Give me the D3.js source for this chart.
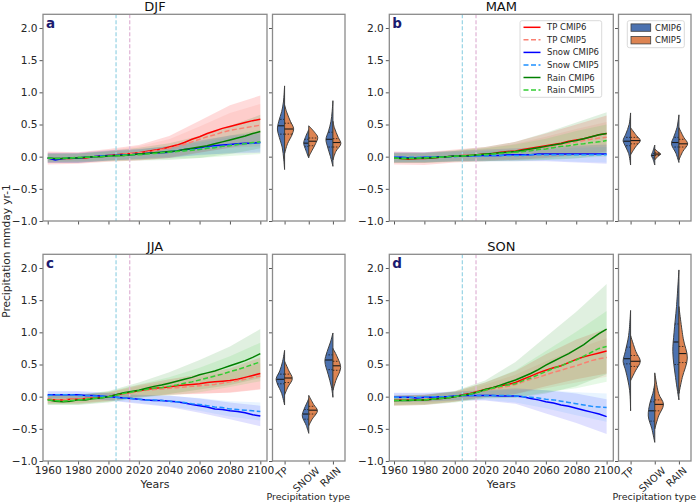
<!DOCTYPE html>
<html><head><meta charset="utf-8">
<script src="https://cdn.jsdelivr.net/npm/d3@7"></script>
<style>body{margin:0;background:#fff}</style>
</head><body><svg id="c" width="698" height="503"></svg>
<script>
// ---------------- DATA ----------------
const years = d3.range(1960, 2101, 5);
const bandYears = d3.range(1960, 2101, 20);
const seasons = ["DJF", "MAM", "JJA", "SON"];
const panelLetters = ["a", "b", "c", "d"];
const seriesNames = ["TP CMIP6", "TP CMIP5", "Snow CMIP6", "Snow CMIP5", "Rain CMIP6", "Rain CMIP5"];
const categories = ["TP", "SNOW", "RAIN"];
const models = ["CMIP6", "CMIP5"];
const xTicks = [1960, 1980, 2000, 2020, 2040, 2060, 2080, 2100];
const yTicks = [-1.0, -0.5, 0.0, 0.5, 1.0, 1.5, 2.0];
const refYears = [2005, 2014];

// ensemble-mean series (5-year steps 1960..2100)
const djfTP6 = [-0.02,-0.04,-0.03,-0.03,-0.02,-0.02,0.00,0.01,0.02,0.03,0.04,0.05,0.06,0.08,0.10,0.12,0.15,0.18,0.22,0.27,0.31,0.36,0.40,0.44,0.47,0.50,0.53,0.56,0.58];
const djfTP5 = [-0.02,-0.03,-0.03,-0.02,-0.02,-0.01,0.00,0.01,0.02,0.03,0.04,0.05,0.06,0.07,0.09,0.11,0.13,0.16,0.19,0.23,0.27,0.31,0.34,0.38,0.41,0.43,0.45,0.47,0.49];
const djfSN6 = [-0.02,-0.05,-0.03,-0.02,-0.02,-0.01,0.00,0.01,0.02,0.02,0.03,0.03,0.04,0.05,0.06,0.06,0.07,0.09,0.11,0.12,0.14,0.16,0.17,0.18,0.19,0.20,0.21,0.21,0.22];
const djfSN5 = [-0.02,-0.03,-0.03,-0.02,-0.02,-0.01,0.00,0.01,0.01,0.02,0.03,0.03,0.04,0.05,0.06,0.07,0.08,0.09,0.10,0.11,0.12,0.14,0.15,0.16,0.18,0.19,0.20,0.21,0.22];
const djfRN6 = [-0.02,-0.03,-0.03,-0.02,-0.02,-0.01,0.00,0.00,0.01,0.02,0.02,0.03,0.04,0.05,0.06,0.07,0.08,0.09,0.11,0.13,0.15,0.17,0.20,0.23,0.26,0.29,0.32,0.36,0.39];
const djfRN5 = [-0.02,-0.03,-0.02,-0.02,-0.01,-0.01,0.00,0.00,0.01,0.01,0.02,0.03,0.03,0.04,0.05,0.06,0.07,0.08,0.09,0.10,0.11,0.13,0.14,0.16,0.17,0.19,0.20,0.22,0.23];

const mamTP6 = [-0.02,-0.03,-0.04,-0.03,-0.03,-0.02,-0.01,0.00,0.01,0.02,0.02,0.03,0.04,0.05,0.07,0.08,0.09,0.11,0.13,0.15,0.17,0.19,0.21,0.24,0.26,0.28,0.31,0.34,0.36];
const mamTP5 = [-0.02,-0.03,-0.03,-0.03,-0.02,-0.02,-0.01,0.00,0.01,0.02,0.02,0.03,0.04,0.05,0.06,0.07,0.08,0.09,0.11,0.13,0.15,0.17,0.19,0.21,0.23,0.25,0.27,0.29,0.30];
const mamSN6 = [-0.01,-0.01,-0.02,-0.02,-0.01,-0.01,0.00,0.00,0.01,0.01,0.01,0.02,0.02,0.02,0.02,0.03,0.03,0.03,0.03,0.04,0.04,0.04,0.04,0.04,0.04,0.04,0.04,0.04,0.04];
const mamSN5 = [-0.01,-0.01,-0.01,-0.01,-0.01,0.00,0.00,0.00,0.00,0.01,0.01,0.01,0.01,0.02,0.02,0.02,0.02,0.02,0.03,0.03,0.03,0.03,0.03,0.03,0.03,0.03,0.03,0.03,0.03];
const mamRN6 = [-0.02,-0.03,-0.03,-0.03,-0.02,-0.02,-0.01,0.00,0.01,0.01,0.02,0.03,0.04,0.05,0.06,0.07,0.08,0.10,0.12,0.14,0.16,0.18,0.20,0.23,0.25,0.28,0.31,0.34,0.36];
const mamRN5 = [-0.02,-0.03,-0.03,-0.02,-0.02,-0.01,-0.01,0.00,0.01,0.01,0.02,0.03,0.03,0.04,0.05,0.06,0.07,0.08,0.09,0.11,0.12,0.14,0.16,0.17,0.19,0.20,0.22,0.23,0.25];

const jjaTP6 = [-0.04,-0.05,-0.05,-0.04,-0.04,-0.03,-0.02,-0.01,0.00,0.03,0.05,0.07,0.09,0.11,0.13,0.14,0.15,0.17,0.18,0.19,0.20,0.22,0.23,0.24,0.25,0.27,0.30,0.33,0.36];
const jjaTP5 = [-0.04,-0.05,-0.05,-0.04,-0.04,-0.03,-0.02,-0.01,0.00,0.02,0.04,0.06,0.08,0.10,0.11,0.12,0.13,0.14,0.15,0.16,0.17,0.18,0.19,0.21,0.23,0.25,0.27,0.30,0.32];
const jjaSN6 = [0.03,0.03,0.03,0.03,0.03,0.02,0.02,0.01,0.00,-0.01,-0.02,-0.03,-0.04,-0.05,-0.06,-0.06,-0.07,-0.08,-0.10,-0.12,-0.14,-0.16,-0.19,-0.20,-0.22,-0.23,-0.25,-0.28,-0.30];
const jjaSN5 = [0.02,0.03,0.03,0.03,0.02,0.02,0.01,0.01,0.00,-0.01,-0.02,-0.03,-0.04,-0.05,-0.05,-0.06,-0.07,-0.08,-0.09,-0.11,-0.12,-0.14,-0.16,-0.17,-0.19,-0.20,-0.21,-0.22,-0.23];
const jjaRN6 = [-0.05,-0.07,-0.08,-0.07,-0.05,-0.05,-0.03,-0.02,0.00,0.03,0.06,0.08,0.10,0.13,0.16,0.18,0.21,0.24,0.27,0.30,0.34,0.37,0.40,0.44,0.48,0.52,0.56,0.61,0.67];
const jjaRN5 = [-0.05,-0.06,-0.07,-0.06,-0.05,-0.04,-0.03,-0.02,0.00,0.02,0.05,0.07,0.09,0.11,0.13,0.14,0.16,0.18,0.21,0.23,0.26,0.29,0.32,0.35,0.39,0.42,0.46,0.50,0.54];

const sonTP6 = [-0.06,-0.05,-0.05,-0.05,-0.05,-0.04,-0.03,-0.02,0.00,0.03,0.05,0.08,0.11,0.14,0.17,0.19,0.22,0.27,0.32,0.37,0.41,0.45,0.48,0.53,0.58,0.62,0.65,0.68,0.71];
const sonTP5 = [-0.06,-0.05,-0.05,-0.05,-0.04,-0.04,-0.03,-0.02,0.00,0.02,0.04,0.07,0.09,0.12,0.14,0.16,0.19,0.23,0.27,0.30,0.34,0.38,0.41,0.45,0.48,0.52,0.56,0.59,0.61];
const sonSN6 = [-0.01,-0.01,-0.01,-0.02,-0.01,-0.01,0.00,0.00,0.01,0.02,0.02,0.02,0.02,0.02,0.01,0.01,0.01,0.00,-0.03,-0.05,-0.08,-0.10,-0.13,-0.15,-0.18,-0.21,-0.24,-0.27,-0.31];
const sonSN5 = [-0.01,-0.01,-0.01,-0.01,-0.01,0.00,0.00,0.00,0.01,0.02,0.02,0.02,0.02,0.02,0.02,0.02,0.01,0.00,-0.01,-0.02,-0.04,-0.05,-0.07,-0.09,-0.11,-0.13,-0.15,-0.16,-0.17];
const sonRN6 = [-0.06,-0.06,-0.06,-0.05,-0.05,-0.04,-0.03,-0.02,0.00,0.02,0.04,0.07,0.11,0.14,0.18,0.22,0.26,0.31,0.36,0.42,0.49,0.55,0.61,0.67,0.74,0.81,0.90,0.98,1.05];
const sonRN5 = [-0.06,-0.06,-0.05,-0.05,-0.05,-0.04,-0.03,-0.02,0.00,0.02,0.04,0.07,0.10,0.13,0.16,0.18,0.20,0.25,0.29,0.34,0.39,0.44,0.48,0.53,0.57,0.63,0.69,0.75,0.78];

// ensemble spread (half width) at 20-year steps 1960..2100
const djfSpread = [[0.10,0.09,0.10,0.12,0.17,0.25,0.33,0.37],[0.08,0.08,0.08,0.10,0.14,0.20,0.27,0.33],[0.08,0.08,0.08,0.08,0.09,0.11,0.14,0.16],[0.07,0.07,0.07,0.07,0.08,0.10,0.12,0.14],[0.07,0.07,0.08,0.10,0.13,0.17,0.22,0.26],[0.06,0.06,0.07,0.08,0.10,0.13,0.16,0.19]];
const mamSpread = [[0.10,0.10,0.10,0.11,0.14,0.19,0.24,0.28],[0.08,0.08,0.08,0.09,0.12,0.16,0.20,0.24],[0.08,0.08,0.08,0.09,0.10,0.11,0.13,0.15],[0.07,0.07,0.07,0.08,0.08,0.09,0.11,0.12],[0.08,0.08,0.09,0.11,0.15,0.21,0.28,0.33],[0.07,0.07,0.08,0.10,0.12,0.16,0.21,0.25]];
const jjaSpread = [[0.07,0.07,0.07,0.09,0.12,0.15,0.19,0.25],[0.06,0.06,0.06,0.08,0.10,0.13,0.16,0.20],[0.06,0.06,0.06,0.07,0.09,0.11,0.13,0.16],[0.05,0.05,0.05,0.06,0.08,0.10,0.12,0.14],[0.08,0.08,0.09,0.12,0.17,0.23,0.30,0.38],[0.07,0.07,0.08,0.10,0.14,0.19,0.24,0.30]];
const sonSpread = [[0.08,0.08,0.08,0.11,0.18,0.25,0.31,0.35],[0.07,0.07,0.07,0.10,0.15,0.21,0.26,0.30],[0.07,0.07,0.07,0.08,0.12,0.18,0.23,0.27],[0.06,0.06,0.06,0.07,0.10,0.14,0.18,0.22],[0.08,0.08,0.09,0.14,0.28,0.44,0.58,0.70],[0.07,0.07,0.08,0.12,0.21,0.32,0.44,0.55]];

// violin density profiles [value, relative density]; order TP6,TP5,SNOW6,SNOW5,RAIN6,RAIN5
const djfViolin = [
  [[-0.2,0],[-0.05,0.08],[0.15,0.25],[0.3,0.55],[0.43,0.74],[0.55,0.6],[0.7,0.3],[0.85,0.12],[1.1,0]],
  [[0.05,0],[0.2,0.3],[0.35,0.8],[0.44,0.93],[0.55,0.6],[0.68,0.25],[0.8,0]],
  [[-0.02,0],[0.1,0.3],[0.21,0.52],[0.3,0.35],[0.42,0]],
  [[0.0,0],[0.1,0.35],[0.2,0.7],[0.3,0.93],[0.38,0.6],[0.48,0]],
  [[-0.15,0],[0.0,0.25],[0.15,0.55],[0.27,0.72],[0.4,0.45],[0.55,0.2],[0.7,0.08],[0.87,0]],
  [[-0.05,0],[0.08,0.3],[0.2,0.82],[0.3,0.55],[0.45,0.15],[0.55,0]]
];
const mamViolin = [
  [[-0.13,0],[0.05,0.2],[0.18,0.6],[0.25,0.77],[0.35,0.5],[0.5,0.15],[0.68,0]],
  [[0.03,0],[0.15,0.5],[0.25,1.0],[0.33,0.6],[0.45,0]],
  [[-0.13,0],[-0.03,0.2],[0.02,0.35],[0.08,0.2],[0.18,0]],
  [[-0.05,0],[0.0,0.3],[0.04,0.6],[0.08,0.3],[0.12,0]],
  [[-0.09,0],[0.05,0.3],[0.2,0.77],[0.3,0.55],[0.45,0.2],[0.65,0]],
  [[-0.05,0],[0.08,0.4],[0.2,0.9],[0.3,0.5],[0.45,0]]
];
const jjaViolin = [
  [[-0.13,0],[0.05,0.3],[0.2,0.75],[0.28,0.87],[0.4,0.5],[0.55,0.2],[0.72,0]],
  [[0.03,0],[0.15,0.35],[0.28,0.8],[0.4,0.45],[0.55,0]],
  [[-0.57,0],[-0.45,0.25],[-0.3,0.67],[-0.2,0.5],[-0.1,0.2],[-0.03,0]],
  [[-0.45,0],[-0.35,0.35],[-0.22,0.9],[-0.12,0.5],[0.02,0]],
  [[-0.01,0],[0.15,0.15],[0.35,0.5],[0.55,0.83],[0.7,0.6],[0.85,0.25],[0.99,0]],
  [[0.1,0],[0.25,0.3],[0.45,0.8],[0.6,0.5],[0.75,0]]
];
const sonViolin = [
  [[-0.22,0],[0.1,0.1],[0.4,0.5],[0.55,0.77],[0.7,0.55],[0.95,0.2],[1.34,0]],
  [[0.25,0],[0.4,0.5],[0.55,1.0],[0.7,0.55],[0.95,0]],
  [[-0.71,0],[-0.5,0.3],[-0.3,0.67],[-0.1,0.5],[0.05,0.2],[0.2,0]],
  [[-0.5,0],[-0.3,0.4],[-0.12,0.9],[0.05,0.4],[0.37,0]],
  [[-0.05,0],[0.3,0.35],[0.7,0.63],[1.0,0.5],[1.4,0.25],[1.97,0]],
  [[0.05,0],[0.3,0.35],[0.6,0.87],[0.9,0.45],[1.4,0]]
];
// quartiles [q1, median, q3]
const djfQuart = [[0.35,0.48,0.58],[0.35,0.43,0.52],[0.16,0.21,0.27],[0.17,0.24,0.29],[0.15,0.27,0.38],[0.15,0.22,0.28]];
const mamQuart = [[0.17,0.24,0.30],[0.20,0.25,0.30],[-0.02,0.02,0.05],[0.02,0.04,0.06],[0.15,0.22,0.30],[0.15,0.20,0.27]];
const jjaQuart = [[0.20,0.27,0.35],[0.22,0.29,0.35],[-0.35,-0.27,-0.20],[-0.27,-0.21,-0.15],[0.42,0.57,0.65],[0.41,0.48,0.55]];
const sonQuart = [[0.51,0.59,0.77],[0.47,0.55,0.64],[-0.38,-0.22,-0.08],[-0.22,-0.12,-0.05],[0.50,0.85,1.13],[0.53,0.67,0.78]];

// ---------------- TABLES ----------------
const means = [[djfTP6,djfTP5,djfSN6,djfSN5,djfRN6,djfRN5],[mamTP6,mamTP5,mamSN6,mamSN5,mamRN6,mamRN5],
               [jjaTP6,jjaTP5,jjaSN6,jjaSN5,jjaRN6,jjaRN5],[sonTP6,sonTP5,sonSN6,sonSN5,sonRN6,sonRN5]];
const spreads = [djfSpread, mamSpread, jjaSpread, sonSpread];
const violins = [djfViolin, mamViolin, jjaViolin, sonViolin];
const quarts = [djfQuart, mamQuart, jjaQuart, sonQuart];

// ---------------- STYLE ----------------
const FONT = '"DejaVu Sans", sans-serif';
const lineColors = ["#ff0000", "#fa8072", "#0000ff", "#1e90ff", "#008000", "#32cd32"];
const bandAlpha = [0.14, 0.15, 0.12, 0.1, 0.12, 0.12];
const dashed = [false, true, false, true, false, true];
const violinColors = ["#4c72b0", "#dd8452"];
const refColors = ["#9ed6e6", "#e2b8d8"];
const spineColor = "#8a8a8a";
const textColor = "#262626";
const cols = [{lx: [43, 267], vx: [272.5, 345]}, {lx: [389.3, 613.3], vx: [618.5, 691]}];
const rows = [[14.3, 221], [254.3, 461]];

const svg = d3.select("#c");
svg.append("rect").attr("width", 698).attr("height", 503).attr("fill", "#fff");
const defs = svg.append("defs");
const fmt = d3.format(".1f");

function styleAxis(g, labels) {
  g.select(".domain").remove();
  g.selectAll(".tick line").attr("stroke", "#444").attr("stroke-width", 0.9);
  g.selectAll(".tick text").attr("fill", textColor).attr("font-family", FONT).attr("font-size", 10.6);
  if (!labels) g.selectAll(".tick text").remove();
}

seasons.forEach((season, si) => {
  const col = cols[si % 2], row = rows[Math.floor(si / 2)];
  const isBottom = si >= 2;
  const x = d3.scaleLinear().domain([1956.9, 2104.4]).range(col.lx);
  const y = d3.scaleLinear().domain([-1, 2.213]).range([row[1], row[0]]);
  const g = svg.append("g");

  const cid = "clip" + si;
  defs.append("clipPath").attr("id", cid).append("rect")
    .attr("x", col.lx[0]).attr("y", row[0]).attr("width", col.lx[1] - col.lx[0]).attr("height", row[1] - row[0]);
  const plot = g.append("g").attr("clip-path", `url(#${cid})`);

  // bands
  means[si].forEach((m, k) => {
    const pts = bandYears.map((yr, j) => {
      const mv = m[years.indexOf(yr)];
      return {yr, lo: mv - spreads[si][k][j], hi: mv + spreads[si][k][j]};
    });
    plot.append("path").datum(pts)
      .attr("d", d3.area().x(d => x(d.yr)).y0(d => y(d.lo)).y1(d => y(d.hi)))
      .attr("fill", lineColors[k]).attr("fill-opacity", bandAlpha[k]).attr("stroke", "none");
  });

  // reference vertical lines
  refYears.forEach((ry, k) => {
    plot.append("line").attr("x1", x(ry)).attr("x2", x(ry)).attr("y1", row[0]).attr("y2", row[1])
      .attr("stroke", refColors[k]).attr("stroke-width", 1.3).attr("stroke-dasharray", "4,2");
  });

  // mean lines
  means[si].forEach((m, k) => {
    plot.append("path").datum(m.map((v, j) => [years[j], v]))
      .attr("d", d3.line().x(d => x(d[0])).y(d => y(d[1])))
      .attr("fill", "none").attr("stroke", lineColors[k]).attr("stroke-width", 1.5)
      .attr("stroke-dasharray", dashed[k] ? "5,2.5" : null);
  });

  // axes
  const ay = g.append("g").attr("transform", `translate(${col.lx[0]},0)`)
    .call(d3.axisLeft(y).tickValues(yTicks).tickSize(3.5).tickPadding(2).tickFormat(fmt));
  styleAxis(ay, true);
  const ax = g.append("g").attr("transform", `translate(0,${row[1]})`)
    .call(d3.axisBottom(x).tickValues(xTicks).tickSize(3.5).tickPadding(2).tickFormat(d3.format("d")));
  styleAxis(ax, isBottom);
  g.append("rect").attr("x", col.lx[0]).attr("y", row[0]).attr("width", col.lx[1] - col.lx[0]).attr("height", row[1] - row[0])
    .attr("fill", "none").attr("stroke", spineColor).attr("stroke-width", 1.3);

  // title & letter
  g.append("text").attr("x", (col.lx[0] + col.lx[1]) / 2).attr("y", row[0] - 3.3).attr("text-anchor", "middle")
    .attr("font-family", FONT).attr("font-size", 13).attr("fill", "#111").text(season);
  g.append("text").attr("x", col.lx[0] + 3).attr("y", row[0] + 13.8)
    .attr("font-family", FONT).attr("font-size", 13.5).attr("font-weight", "bold").attr("fill", "#1c1c70").text(panelLetters[si]);

  if (isBottom) {
    g.append("text").attr("x", (col.lx[0] + col.lx[1]) / 2).attr("y", row[1] + 27).attr("text-anchor", "middle")
      .attr("font-family", FONT).attr("font-size", 11).attr("fill", textColor).text("Years");
  }

  // ---- violin panel ----
  const xv = d3.scaleLinear().domain([-0.5, 2.5]).range(col.vx);
  const unit = (xv(1) - xv(0)) * 0.4;
  const vg = svg.append("g");
  categories.forEach((c, ci) => {
    const cx = xv(ci);
    [0, 1].forEach(mi => {
      const prof = violins[si][ci * 2 + mi];
      const dir = mi === 0 ? -1 : 1;
      const ln = d3.line().x(p => cx + dir * p[1] * unit).y(p => y(p[0])).curve(d3.curveCatmullRom.alpha(0.5));
      vg.append("path").attr("d", ln(prof) + "Z")
        .attr("fill", violinColors[mi]).attr("stroke", "#3f3f3f").attr("stroke-width", 1).attr("stroke-linejoin", "round");
      const q = quarts[si][ci * 2 + mi];
      q.forEach((qv, qi) => {
        let w = 0;
        for (let j = 0; j < prof.length - 1; j++) {
          if (qv >= prof[j][0] && qv <= prof[j + 1][0]) {
            const t = (qv - prof[j][0]) / (prof[j + 1][0] - prof[j][0]);
            w = prof[j][1] + t * (prof[j + 1][1] - prof[j][1]);
          }
        }
        vg.append("line").attr("x1", cx).attr("x2", cx + dir * w * unit).attr("y1", y(qv)).attr("y2", y(qv))
          .attr("stroke", "#1a1a1a").attr("stroke-width", qi === 1 ? 1.1 : 0.8)
          .attr("stroke-dasharray", qi === 1 ? null : "1.5,1.5");
      });
    });
  });
  const vay = vg.append("g").attr("transform", `translate(${col.vx[0]},0)`)
    .call(d3.axisLeft(y).tickValues(yTicks).tickSize(3.5));
  styleAxis(vay, false);
  const vax = vg.append("g").attr("transform", `translate(0,${row[1]})`)
    .call(d3.axisBottom(xv).tickValues([0, 1, 2]).tickSize(3.5));
  styleAxis(vax, false);
  vg.append("rect").attr("x", col.vx[0]).attr("y", row[0]).attr("width", col.vx[1] - col.vx[0]).attr("height", row[1] - row[0])
    .attr("fill", "none").attr("stroke", spineColor).attr("stroke-width", 1.3);

  if (isBottom) {
    categories.forEach((c, ci) => {
      const t = vg.append("text").text(c).attr("font-family", FONT).attr("font-size", 10).attr("fill", textColor)
        .attr("text-anchor", "middle").attr("dominant-baseline", "central");
      const L = t.node().getComputedTextLength();
      const half = (L + 7) * 0.3536;
      t.attr("transform", `translate(${xv(ci) - 2.5},${row[1] + 5 + half}) rotate(-42)`);
    });
    vg.append("text").attr("x", (col.vx[0] + col.vx[1]) / 2 - 0.5).attr("y", 499.5).attr("text-anchor", "middle")
      .attr("font-family", FONT).attr("font-size", 9.5).attr("fill", textColor).text("Precipitation type");
  }

  // legends in panel b
  if (si === 1) {
    const lg = svg.append("g");
    lg.append("rect").attr("x", 520).attr("y", 20.7).attr("width", 81.7).attr("height", 76.6).attr("rx", 2)
      .attr("fill", "#fff").attr("fill-opacity", 0.85).attr("stroke", "#d0d0d0").attr("stroke-width", 0.8);
    seriesNames.forEach((nm, k) => {
      const yy = 27.3 + k * 12.55;
      lg.append("line").attr("x1", 523.5).attr("x2", 540.5).attr("y1", yy).attr("y2", yy)
        .attr("stroke", lineColors[k]).attr("stroke-width", 1.5).attr("stroke-dasharray", dashed[k] ? "5,2.5" : null);
      lg.append("text").attr("x", 547).attr("y", yy + 3).attr("font-family", FONT).attr("font-size", 8.5)
        .attr("fill", textColor).text(nm);
    });
    const vl = svg.append("g");
    vl.append("rect").attr("x", 627.3).attr("y", 20.7).attr("width", 57).attr("height", 27).attr("rx", 2)
      .attr("fill", "#fff").attr("stroke", "#d0d0d0").attr("stroke-width", 0.8);
    models.forEach((m, k) => {
      const yy = 27.6 + k * 12.6;
      vl.append("rect").attr("x", 631).attr("y", yy - 3.7).attr("width", 19.7).attr("height", 7.4)
        .attr("fill", violinColors[k]).attr("stroke", "#3f3f3f").attr("stroke-width", 0.8);
      vl.append("text").attr("x", 655).attr("y", yy + 3).attr("font-family", FONT).attr("font-size", 8.5)
        .attr("fill", textColor).text(m);
    });
  }
});

// shared y label
svg.append("text").attr("transform", "translate(9.5,251) rotate(-90)").attr("text-anchor", "middle")
  .attr("font-family", FONT).attr("font-size", 10.6).attr("fill", textColor).text("Precipitation mmday yr-1");
</script></body></html>
